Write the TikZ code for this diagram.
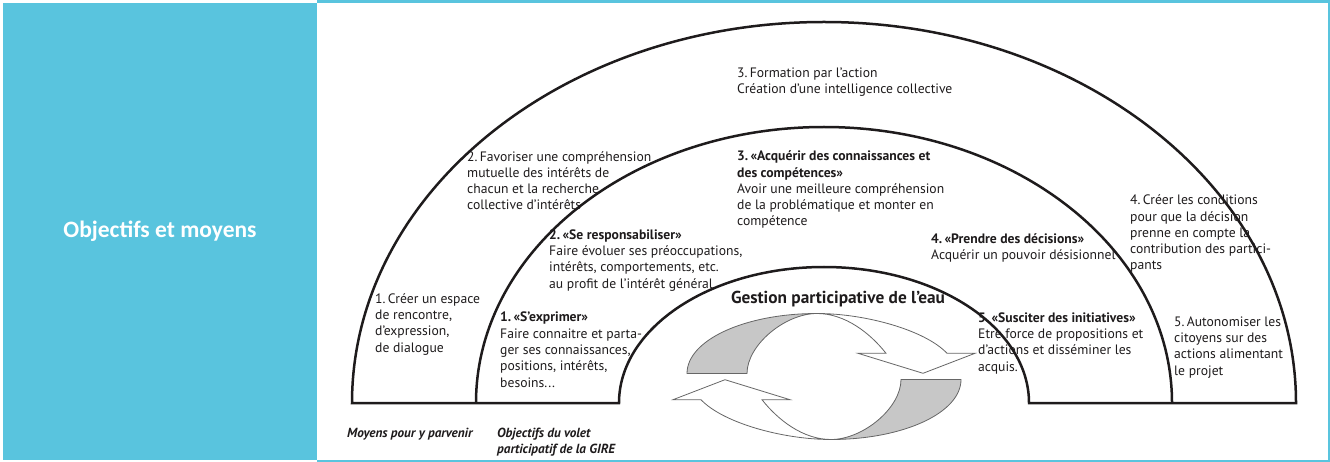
\documentclass[tikz,border=0pt]{standalone}
\usepackage{fontspec}
\setmainfont{PT Sans}
\newfontfamily\cellfont{Carlito}
\usetikzlibrary{calc}
\definecolor{cellblue}{RGB}{89,196,222}
\definecolor{ink}{RGB}{30,27,28}

\begin{document}
\begin{tikzpicture}[x=1pt, y=-1pt
        , label/.style={ anchor=base west, align=left, inner sep=0pt, text=ink,
              font=\fontsize{13.65}{16.3}\selectfont }
        , legend/.style={ label, font=\bfseries\itshape\fontsize{13.2}{16}\selectfont }
        , arch/.style={ draw=ink, line width=2.5pt, line join=miter }
        , ribbon/.style={ draw=black!60, line width=0.8pt }
        ]
        \useasboundingbox (0,0) rectangle (1330,462);

        % Table cell: blue title cell and the thin frame round the figure.
        \fill[cellblue] (3,3) rectangle (317,460);
        \fill[cellblue] (317,0) rectangle (1330,3) (317,460) rectangle (1330,462)
            (1328,0) rectangle (1330,462);
        \node[text=white, font=\cellfont\bfseries\fontsize{23.5}{26}\selectfont]
            (titre) at (160,231) {Objectifs et moyens};

        % Outer and inner arches closed by the base line.
        \draw[arch] (352,403) arc[start angle=180, end angle=360, x radius=472, y radius=381]
            -- (1029,403) arc[start angle=360, end angle=180, x radius=205, y radius=136]
            -- cycle;
        \draw[arch] (476,403) arc[start angle=180, end angle=360, x radius=348, y radius=276];

        % Twisted arrows of the cycle, the second one turned round the centre.
        \coordinate (C) at (824,376.5);
        \foreach \turn in {0,180} {
            \begin{scope}[rotate around={\turn:(C)}]
                \filldraw[ribbon, fill=black!22] (687,373.5)
                    .. controls (687,340) and (745,313.5) .. (817,313.5)
                    .. controls (785,313.5) and (747,345) .. (747,373.5) -- cycle;
                \filldraw[ribbon, fill=white] (817,313.5)
                    .. controls (865,313.5) and (925,330) .. (947,353.3)
                    -- (975,353.3) -- (923,373.3) -- (858,353.3) -- (886,353.3)
                    .. controls (870,333) and (845,313.5) .. (817,313.5) -- cycle;
            \end{scope}
        }
        \node[text=ink, inner sep=0pt, font=\bfseries\fontsize{17.3}{20}\selectfont]
            (gestion) at (838,299) {Gestion participative de l’eau};

        % Means (outer ring); a node sits on the base line of its last line.
        \node[label] (creer) at (375,352) {1.\,Créer un espace\\de rencontre,\\d’expression,\\de dialogue};
        \node[label] (favoriser) at (467,210) {2.\,Favoriser une compréhension\\mutuelle des intérêts de\\chacun et la recherche\\collective d’intérêts};
        \node[label] (formation) at (737,93.5) {3.\,Formation par l’action\\Création d’une intelligence collective};
        \node[label] (conditions) at (1130,270) {4.\,Créer les conditions\\pour que la décision\\prenne en compte la\\contribution des partici-\\pants};
        \node[label] (autonomiser) at (1174,375) {5.\,Autonomiser les\\citoyens sur des\\actions alimentant\\le projet};

        % Objectives (middle ring).
        \node[label] (exprimer) at (500,387) {\textbf{1.\,«S’exprimer»}\\Faire connaitre et parta-\\ger ses connaissances,\\positions, intérêts,\\besoins...};
        \node[label] (responsabiliser) at (549,288) {\textbf{2.\,«Se responsabiliser»}\\Faire évoluer ses préoccupations,\\intérêts, comportements, etc.\\au profit de l’intérêt général};
        \node[label] (acquerir) at (737,226) {\textbf{3.\,«Acquérir des connaissances et}\\\textbf{des compétences»}\\Avoir une meilleure compréhension\\de la problématique et monter en\\compétence};
        \node[label] (prendre) at (931,260) {\textbf{4.\,«Prendre des décisions»}\\Acquérir un pouvoir désisionnel};
        \node[label] (susciter) at (978,371) {\textbf{5.\,«Susciter des initiatives»}\\Etre force de propositions et\\d’actions et disséminer les\\acquis.};

        % Legends under the base line.
        \node[legend] (moyens) at (347,437) {Moyens pour y parvenir};
        \node[legend] (volet) at (497,453) {Objectifs du volet\\participatif de la GIRE};

\end{tikzpicture}
\end{document}
